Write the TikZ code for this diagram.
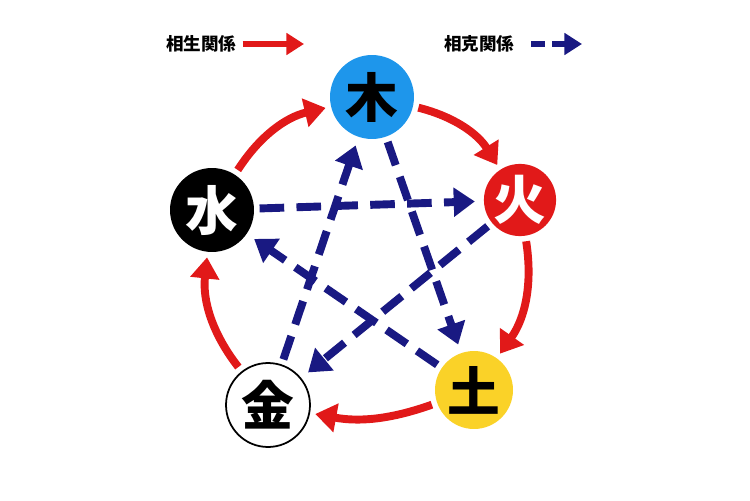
\documentclass[tikz,border=0pt]{standalone}
\usepackage{fontspec}
\newfontfamily\cjk{Noto Sans CJK JP}
\usetikzlibrary{arrows.meta}
\definecolor{rd}{RGB}{225,25,25}
\definecolor{nv}{RGB}{25,25,130}
\begin{document}
\begin{tikzpicture}[x=0.02cm,y=-0.02cm,
  el/.style={circle,minimum size=#1,inner sep=0pt,font=\cjk\bfseries\fontsize{30}{30}\selectfont},
  gen/.style={rd,line width=4.5pt,-{Triangle[length=12pt,width=16pt]},shorten <=3pt,shorten >=3pt},
  ctl/.style={nv,line width=4.5pt,dash pattern=on 14pt off 7pt,-{Triangle[length=12pt,width=16pt]},shorten <=3pt,shorten >=5pt},
  lg/.style={font=\cjk\bfseries\fontsize{10}{10}\selectfont}]
\useasboundingbox (0,0) rectangle (750,500);
\node[el=1.68cm,fill={rgb,255:red,30;green,150;blue,235}] (mu) at (372,97) {木};
\node[el=1.34cm,fill=rd,text=white] (huo) at (520,200) {火};
\node[el=1.56cm,fill={rgb,255:red,250;green,210;blue,40}] (tu) at (474,390) {土};
\node[el=1.68cm,draw=black,line width=1pt,fill=white] (jin) at (268,405) {金};
\node[el=1.68cm,fill=black,text=white] (shui) at (212,210) {水};
\draw[gen] (mu) to[bend left=22] (huo);
\draw[gen] (huo) to[bend left=22] (tu);
\draw[gen] (tu) to[bend left=15] (jin);
\draw[gen] (jin) to[bend left=22] (shui);
\draw[gen] (shui) to[bend left=22] (mu);
\draw[ctl] (mu) -- (tu);
\draw[ctl] (tu) -- (shui);
\draw[ctl] (shui) -- (huo);
\draw[ctl] (huo) -- (jin);
\draw[ctl] (jin) -- (mu);
\node[lg,anchor=west] (l1) at (160,44) {相生関係};
\coordinate (a1) at (304,44);
\draw[rd,line width=3pt,-{Triangle[length=10pt,width=12pt]}] (l1.east) -- (a1);
\node[lg,anchor=west] (l2) at (438,44) {相克関係};
\coordinate (a2) at (582,44);
\draw[nv,line width=3.5pt,dash pattern=on 8pt off 4pt,-{Triangle[length=10pt,width=12pt]}] ([xshift=6pt]l2.east) -- (a2);
\end{tikzpicture}
\end{document}
